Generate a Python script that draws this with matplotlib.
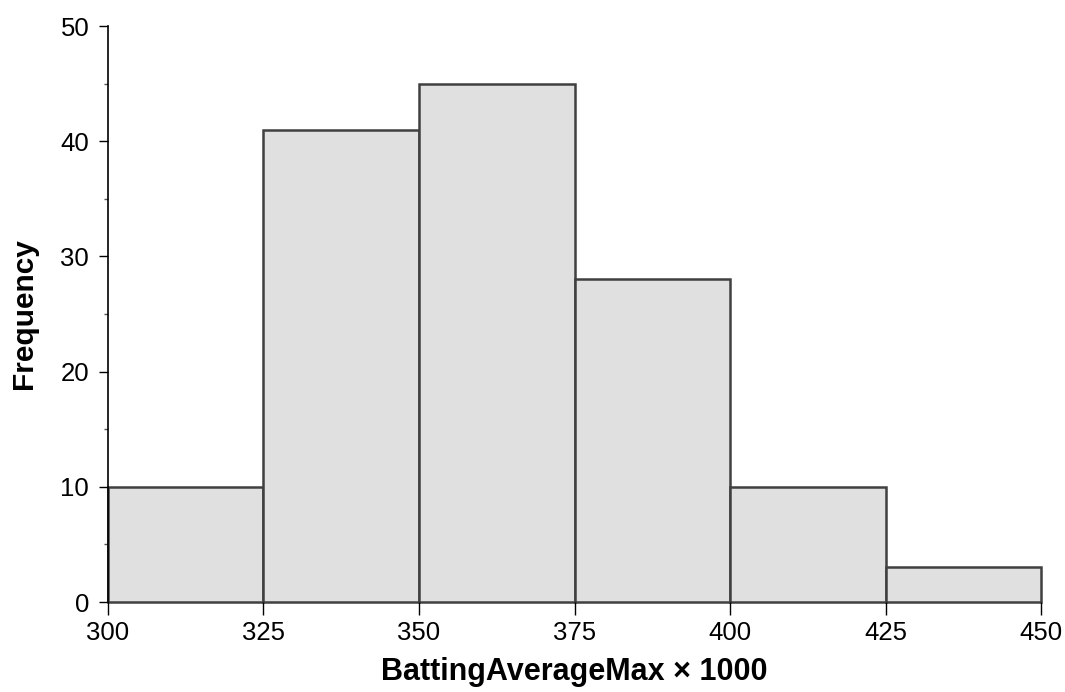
import numpy as np
import matplotlib.pyplot as plt
from matplotlib.ticker import MultipleLocator

plt.rcParams["font.family"] = ["Liberation Sans", "DejaVu Sans"]

bin_edges = [300, 325, 350, 375, 400, 425, 450]
counts = [10, 41, 45, 28, 10, 3]

fig = plt.figure(figsize=(10.65, 6.92), dpi=100)
ax = fig.add_axes([0.1014, 0.130, 0.8761, 0.8324])

bars = ax.bar(bin_edges[:-1], counts, width=np.diff(bin_edges), align="edge",
              color="#e0e0e0", edgecolor="#404040", linewidth=1.8)
for b in bars:
    b.set_clip_on(False)

ax.set_xlim(300, 450)
ax.set_ylim(0, 50)
ax.set_xticks(bin_edges)
ax.yaxis.set_major_locator(MultipleLocator(10))
ax.yaxis.set_minor_locator(MultipleLocator(5))

for side in ("top", "right", "bottom"):
    ax.spines[side].set_visible(False)
ax.spines["left"].set_color("#000000")
ax.spines["left"].set_linewidth(1.2)

ax.tick_params(axis="x", which="major", labelsize=18.5, length=9.5,
               width=1.0, colors="#000000", pad=4)
ax.tick_params(axis="y", which="major", labelsize=18.5, length=6.5,
               width=1.0, colors="#000000", pad=7)
ax.tick_params(axis="y", which="minor", length=3, width=1.0, color="#555555")

ax.set_xlabel("BattingAverageMax \u00d7 1000", fontsize=22, fontweight="bold",
              labelpad=9)
ax.set_ylabel("Frequency", fontsize=21.5, fontweight="bold", labelpad=16)

fig.savefig("out.png", dpi=100)
